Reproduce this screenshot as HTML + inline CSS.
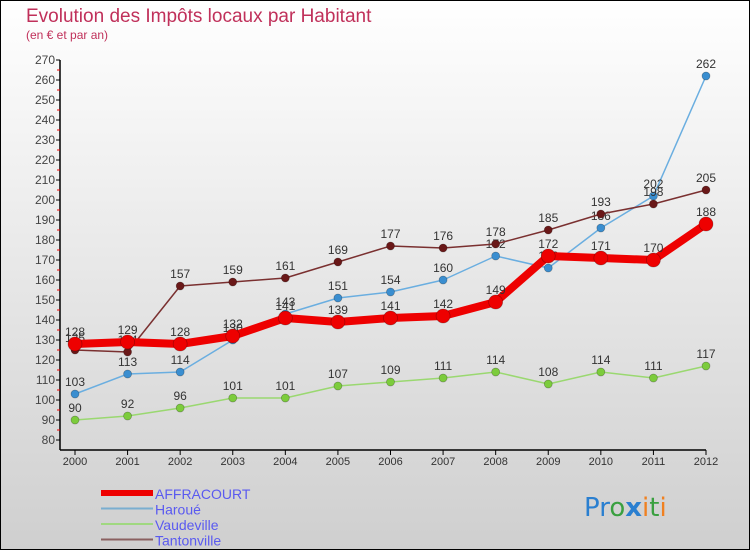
<!DOCTYPE html>
<html><head><meta charset="utf-8"><style>
body{margin:0}
#c{width:750px;height:550px;position:relative;font-family:"Liberation Sans",sans-serif}
</style></head><body>
<div id="c">
<svg id="s" width="750" height="550" xmlns="http://www.w3.org/2000/svg">
<defs><linearGradient id="bg" x1="0" y1="0" x2="0" y2="1"><stop offset="0" stop-color="#ffffff"/><stop offset="1" stop-color="#cfcfcf"/></linearGradient></defs>
<rect x="0.5" y="0.5" width="749" height="549" fill="url(#bg)" stroke="#000"/>
<text x="26" y="22" font-size="19" fill="#c0305a">Evolution des Impôts locaux par Habitant</text>
<text x="26" y="39" font-size="12" fill="#c0305a">(en € et par an)</text>
<g id="axes"></g>
<g id="series"></g>
<g id="legend"></g>
<text x="584" y="516" font-size="26" font-family="'DejaVu Sans',sans-serif"><tspan fill="#2a7fd0">Pr</tspan><tspan fill="#3aa040">o</tspan><tspan fill="#2a7fd0" font-weight="bold">x</tspan><tspan fill="#f08020">i</tspan><tspan fill="#3aa040">t</tspan><tspan fill="#f08020">i</tspan></text>
</svg>
</div>
<script>
const years=["2000","2001","2002","2003","2004","2005","2006","2007","2008","2009","2010","2011","2012"];
const affracourt=[128,129,128,132,141,139,141,142,149,172,171,170,188];
const haroue=[103,113,114,130,143,151,154,160,172,166,186,202,262];
const vaudeville=[90,92,96,101,101,107,109,111,114,108,114,111,117];
const tantonville=[125,124,157,159,161,169,177,176,178,185,193,198,205];
const yTicks=[80,90,100,110,120,130,140,150,160,170,180,190,200,210,220,230,240,250,260,270];
const NS="http://www.w3.org/2000/svg";
function X(i){return 75+i*(706-75)/12;}
function Y(v){return 440-(v-80)*2;}
function mk(tag,attrs,parent){const e=document.createElementNS(NS,tag);for(const k in attrs)e.setAttribute(k,attrs[k]);parent.appendChild(e);return e;}
const axes=document.getElementById('axes');
let l=mk('line',{x1:60,y1:Y(270),x2:60,y2:450,stroke:'#000','stroke-width':1.5},axes);


l=mk('line',{x1:60,y1:450,x2:X(12),y2:450,stroke:'#000','stroke-width':1.5},axes);


yTicks.forEach(v=>{
  mk('line',{x1:56,y1:Y(v),x2:60,y2:Y(v),stroke:'#000'},axes);
  if(v<270)mk('line',{x1:57,y1:Y(v+5),x2:60,y2:Y(v+5),stroke:'#e00'},axes);
  const t=mk('text',{x:55,y:Y(v)+4,'font-size':12,fill:'#444','text-anchor':'end'},axes);
  t.textContent=v;
  
  
});
years.forEach((y,i)=>{
  mk('line',{x1:X(i),y1:450,x2:X(i),y2:455,stroke:'#000'},axes);
  const t=mk('text',{x:X(i),y:465,'font-size':11,fill:'#333','text-anchor':'middle'},axes);
  t.textContent=y;
  
  
});
const ser=document.getElementById('series');
function draw(data,name,color,dot,w,r){
  const g=mk('g',{},ser);
  
  
  const p=mk('polyline',{points:data.map((v,i)=>X(i)+','+Y(v)).join(' '),fill:'none',stroke:color,'stroke-width':w,'stroke-linejoin':'round'},g);
  
  
  data.forEach((v,i)=>{
    const c=mk('circle',{cx:X(i),cy:Y(v),r:r,fill:dot,stroke:'rgba(0,0,0,0.3)','stroke-width':0.7},g);
    
    
    const t=mk('text',{x:X(i),y:Y(v)-8,'font-size':12,fill:'#333','text-anchor':'middle'},g);
    t.textContent=v;
    
    
  });
}
draw(vaudeville,'vaudeville','#9ad870','#7ccc3c',1.5,4);
draw(haroue,'haroue','#6aaee0','#3a8ed0',1.5,4);
draw(tantonville,'tantonville','#7a3030','#6a1818',1.5,4);
draw(affracourt,'affracourt','#ee0000','#ee0000',8,7);
const leg=document.getElementById('legend');
const items=[["AFFRACOURT","#ee0000",6],["Haroué","#7aaed0",2],["Vaudeville","#a0d880",2],["Tantonville","#8a6060",2]];
items.forEach((it,i)=>{
  const y=493+i*15.5;
  const g=mk('g',{},leg);
  
  
  mk('line',{x1:101,y1:y,x2:153,y2:y,stroke:it[1],'stroke-width':it[2]},g);
  const t=mk('text',{x:155,y:y+6,'font-size':14,fill:'#5a5af0'},g);
  t.textContent=it[0];
});
</script>
</body></html>
